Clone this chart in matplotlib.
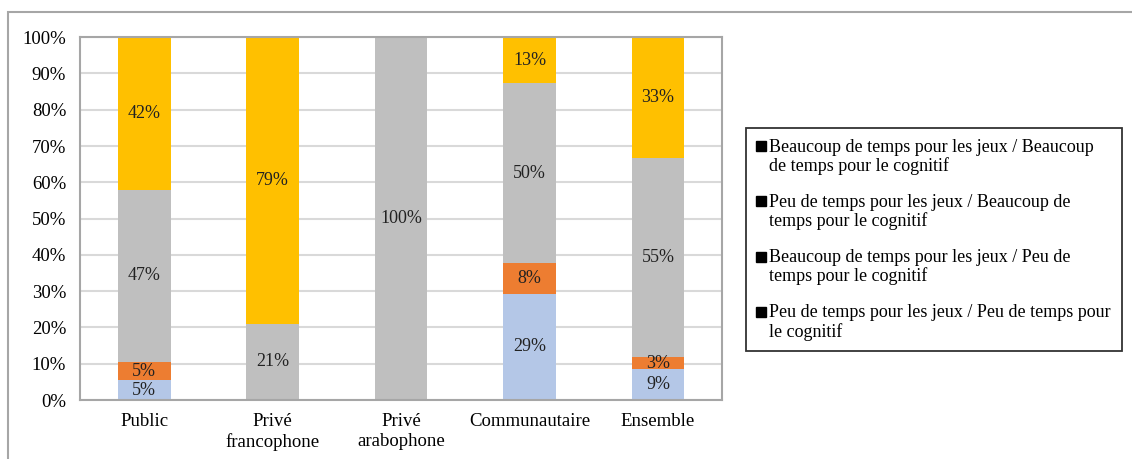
import matplotlib.pyplot as plt
from matplotlib.lines import Line2D
from matplotlib.patches import Rectangle
from matplotlib.legend_handler import HandlerLine2D

plt.rcParams['font.family'] = ['Liberation Serif', 'DejaVu Serif']

# Catégories et séries (en %), du bas vers le haut de la pile
categories = ['Public', 'Privé\nfrancophone', 'Privé\narabophone', 'Communautaire', 'Ensemble']
legend_texts = [
    'Peu de temps pour les jeux / Peu de temps pour\nle cognitif',
    'Beaucoup de temps pour les jeux / Peu de\ntemps pour le cognitif',
    'Peu de temps pour les jeux / Beaucoup de\ntemps pour le cognitif',
    'Beaucoup de temps pour les jeux / Beaucoup\nde temps pour le cognitif',
]
peu_peu = [5.4, 0, 0, 29.3, 8.6]
beaucoup_peu = [5.1, 0, 0, 8.4, 3.2]
peu_beaucoup = [47.4, 21.0, 100.0, 49.6, 54.9]
beaucoup_beaucoup = [42.1, 79.0, 0, 12.7, 33.3]
colors = ['#b4c7e7', '#ed7d31', '#bfbfbf', '#ffc000']


# marqueur de légende aligné sur la première ligne du texte
class FirstLineHandler(HandlerLine2D):
    def create_artists(self, legend, orig_handle, xdescent, ydescent,
                       width, height, fontsize, trans):
        return super().create_artists(legend, orig_handle, xdescent,
                                      ydescent - 1.2 * fontsize, width, height,
                                      fontsize, trans)


fig = plt.figure(figsize=(11.32, 4.59), dpi=100)
ax = fig.add_axes([0.0707, 0.1285, 0.5673, 0.7905])

x = range(len(categories))
bottom = [0] * len(categories)
for vals, col in zip([peu_peu, beaucoup_peu, peu_beaucoup, beaucoup_beaucoup], colors):
    ax.bar(x, vals, 0.41, bottom=bottom, color=col, zorder=2)
    for i, v in enumerate(vals):
        if v > 0:
            ax.text(i, bottom[i] + v / 2, f'{v:.0f}%', ha='center', va='center',
                    fontsize=13, color='#222222', zorder=3)
    bottom = [b + v for b, v in zip(bottom, vals)]

ax.set_xlim(-0.5, 4.5)
ax.set_ylim(0, 100)
ax.set_yticks(range(0, 101, 10))
ax.set_yticklabels([f'{t}%' for t in range(0, 101, 10)])
ax.set_xticks(list(x))
ax.set_xticklabels(categories, linespacing=1.25)
ax.tick_params(axis='both', length=0, labelsize=13.5, colors='black')
ax.tick_params(axis='y', pad=10)
ax.tick_params(axis='x', pad=9)
ax.yaxis.grid(True, color='#d9d9d9', linewidth=1.5, zorder=0)
ax.set_axisbelow(True)
for s in ax.spines.values():
    s.set_color('#a6a6a6')
    s.set_linewidth(1.5)

# Légende (marqueurs noirs comme dans l'original), ordre inversé
handles = [Line2D([], [], marker='s', color='black', linestyle='none', markersize=6.5)
           for _ in legend_texts]
leg = fig.legend(handles[::-1], legend_texts[::-1], loc='center left',
                 bbox_to_anchor=(0.659, 0.478), fontsize=13, frameon=True,
                 fancybox=False, edgecolor='black', handlelength=0.5,
                 handletextpad=0.2, labelspacing=1.05, borderpad=0.6,
                 borderaxespad=0,
                 handler_map={Line2D: FirstLineHandler()})
leg.get_frame().set_linewidth(1.3)
for t in leg.get_texts():
    t.set_linespacing(1.1)

# Cadre extérieur gris
fig.patches.append(Rectangle((8 / 1132, -0.02), 1.2, 1 - 12 / 459 + 0.02,
                             transform=fig.transFigure, fill=False,
                             edgecolor='#a6a6a6', linewidth=1.5))

fig.savefig('out.png', dpi=100)
